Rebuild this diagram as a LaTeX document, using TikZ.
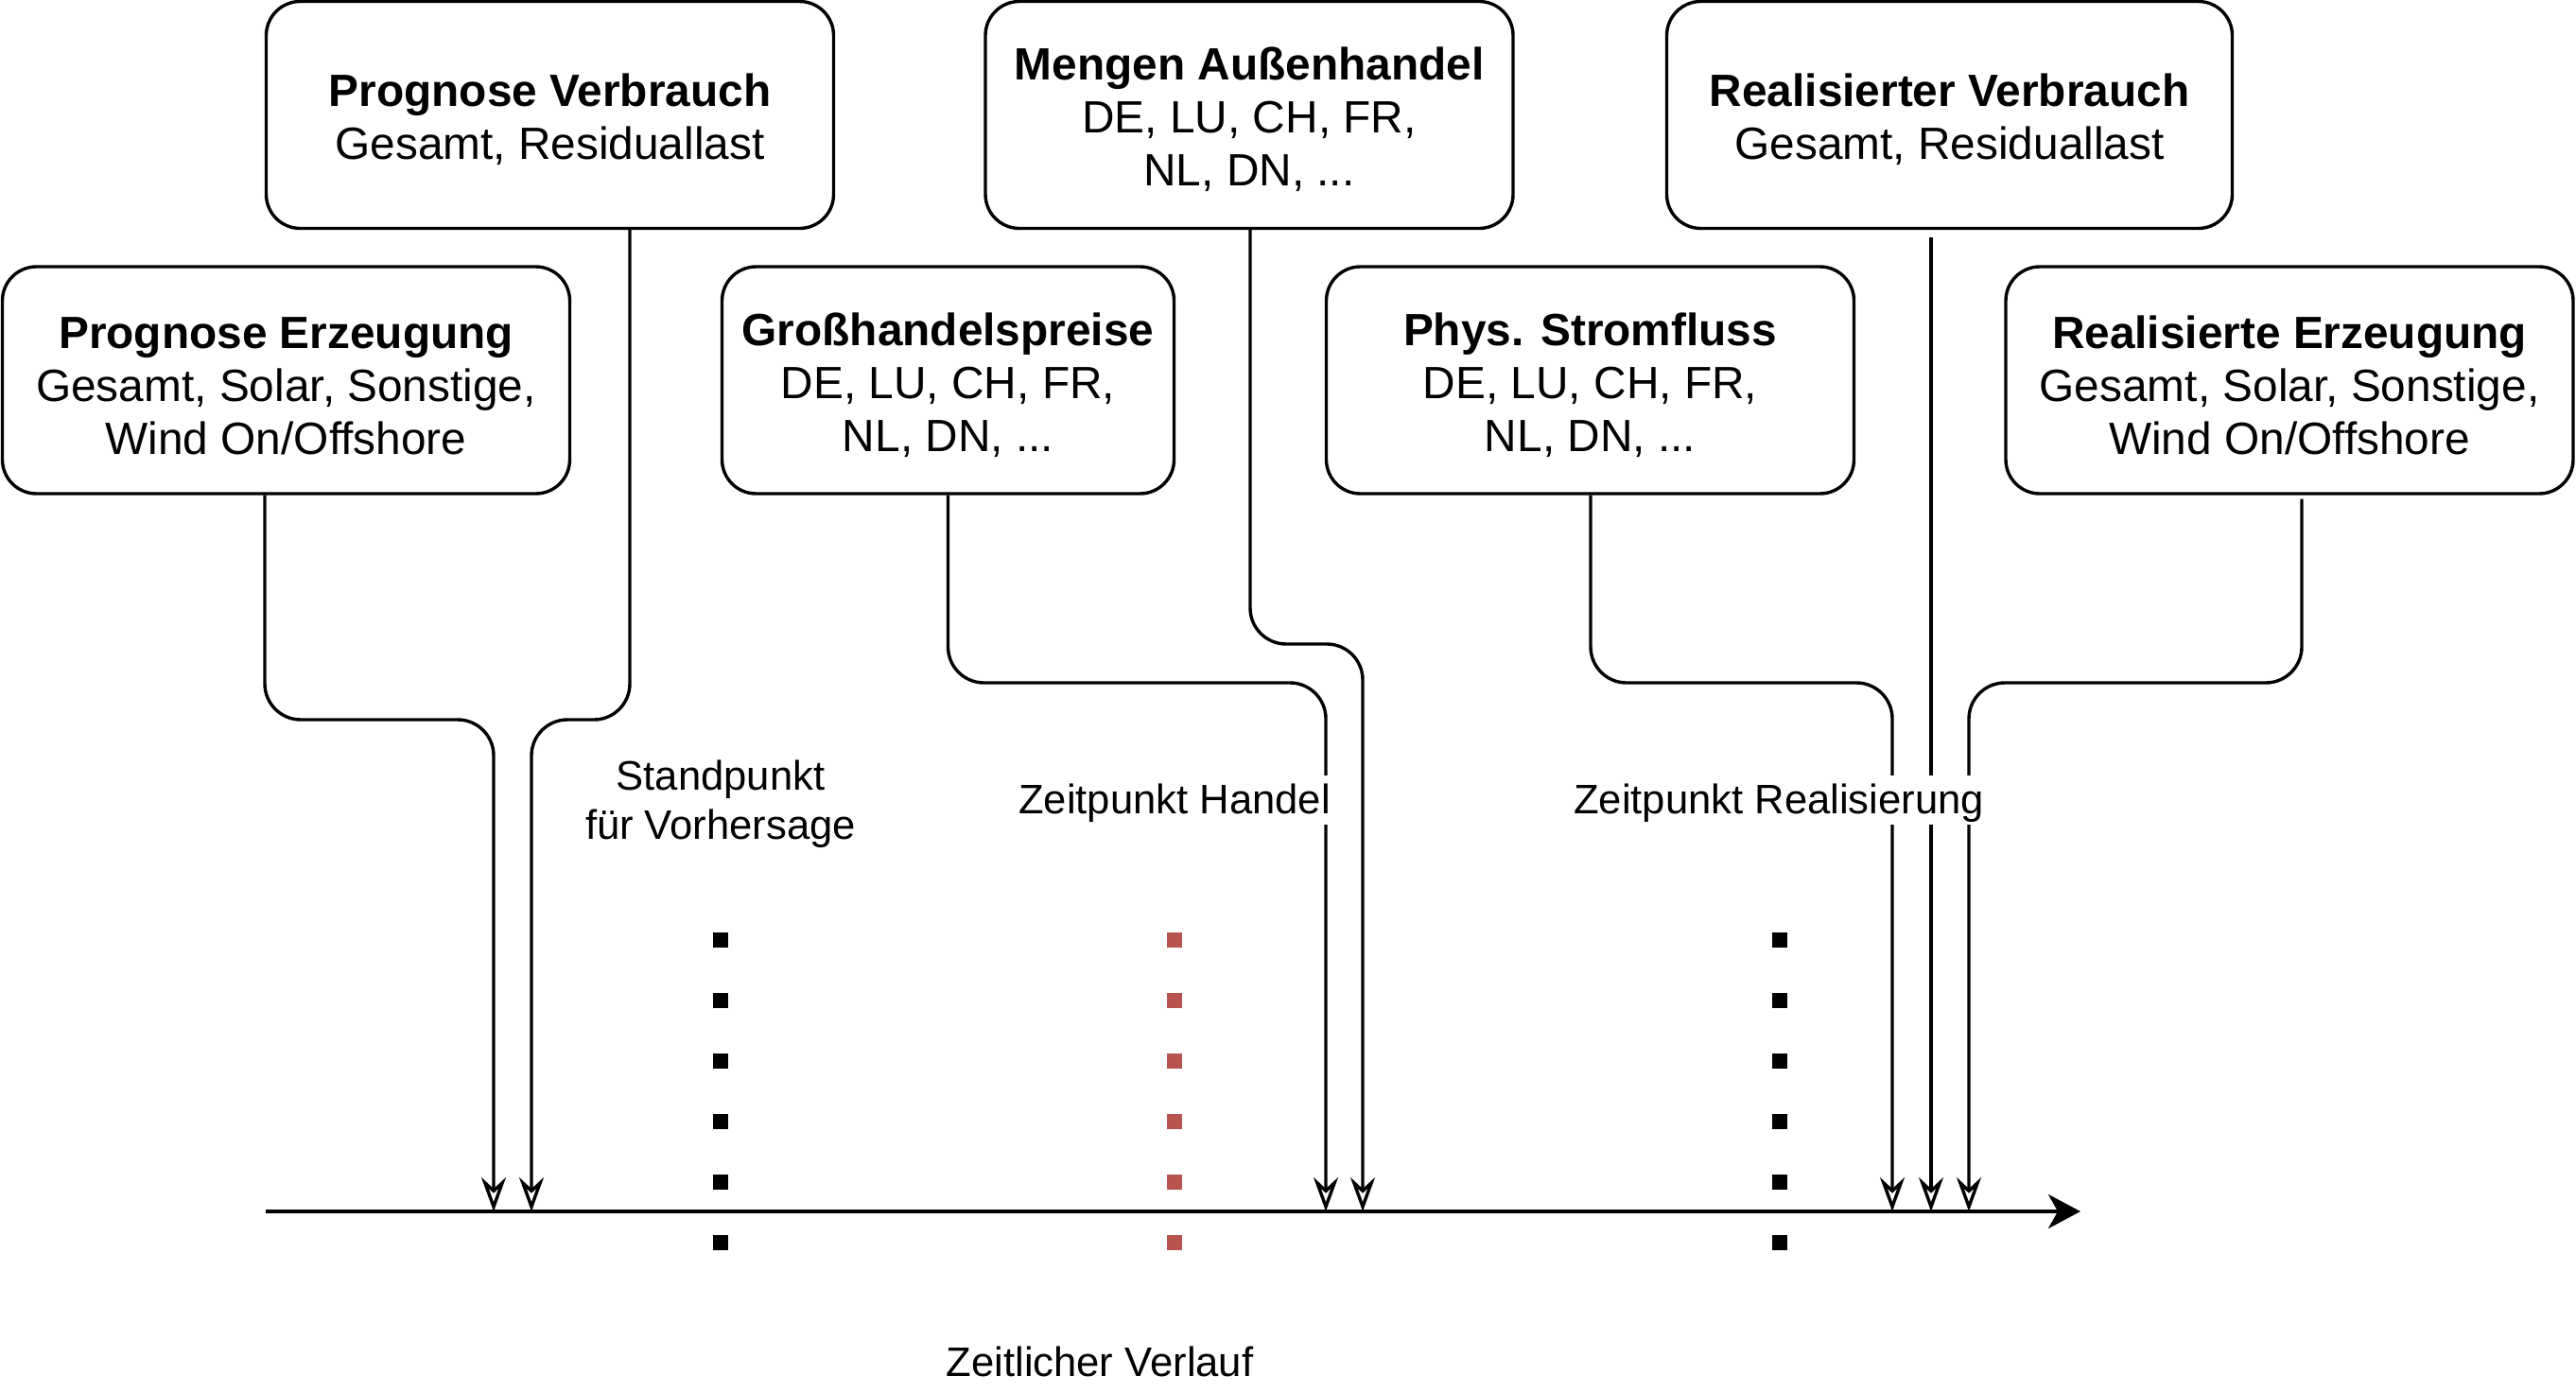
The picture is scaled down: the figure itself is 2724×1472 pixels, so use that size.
\documentclass[tikz,border=0pt]{standalone}
\usepackage{fontspec}
\setmainfont{Liberation Sans}
\usetikzlibrary{arrows.meta,calc}
\definecolor{dotred}{HTML}{B85450}
\newcommand{\topstrut}{\rule{0pt}{22.5pt}}
\begin{document}
\begin{tikzpicture}[x=0.5pt,y=-0.5pt,
  box/.style={draw, line width=1.7pt, rounded corners=18pt, minimum height=120pt,
    align=center, inner sep=0pt, font=\fontsize{23.9}{28}\selectfont},
  conn/.style={line width=1.7pt, rounded corners=19pt,
    -{Stealth[open,length=18pt,width=13pt,inset=6pt]}},
  axisline/.style={line width=1.7pt, -{Stealth[length=17pt,width=18pt,inset=5pt]}},
  lbl/.style={font=\fontsize{21.8}{26}\selectfont, align=center, inner sep=0pt},
  wlbl/.style={lbl, fill=white, inner xsep=2pt, text height=20pt, text depth=6pt},
  tickline/.style={line width=8pt, dash pattern=on 8pt off 24pt}
]
\useasboundingbox (0,0) rectangle (2724,1472);

% boxes
\node[box, minimum width=300pt] (pv) at (581.5,121.5) {\topstrut\textbf{Prognose Verbrauch}\\Gesamt, Residuallast};
\node[box, minimum width=300pt] (pe) at (302.5,402) {\topstrut\textbf{Prognose Erzeugung}\\Gesamt, Solar, Sonstige,\\Wind On/Offshore};
\node[box, minimum width=239pt] (gh) at (1002.5,402) {\topstrut\textbf{Großhandelspreise}\\DE, LU, CH, FR,\\NL, DN, ...};
\node[box, minimum width=279pt] (ma) at (1321,121.5) {\topstrut\textbf{Mengen Außenhandel}\\DE, LU, CH, FR,\\NL, DN, ...};
\node[box, minimum width=279pt] (ps) at (1681.5,402) {\topstrut\textbf{Phys. Stromfluss}\\DE, LU, CH, FR,\\NL, DN, ...};
\node[box, minimum width=299pt] (rv) at (2061.5,121.5) {\topstrut\textbf{Realisierter Verbrauch}\\Gesamt, Residuallast};
\node[box, minimum width=300pt] (re) at (2421,402) {\topstrut\textbf{Realisierte Erzeugung}\\Gesamt, Solar, Sonstige,\\Wind On/Offshore};

% axis
\coordinate (ax0) at (281,1281);
\coordinate (ax1) at (2200,1281);
\draw[axisline] (ax0) -- (ax1);

% arrow targets on the axis
\coordinate (t1) at (522,1281);
\coordinate (t2) at (562,1281);
\coordinate (t3) at (1402,1281);
\coordinate (t4) at (1441,1281);
\coordinate (t5) at (2001,1281);
\coordinate (t6) at (2042,1281);
\coordinate (t7) at (2082,1281);
% bend levels
\coordinate (bA) at (0,761);
\coordinate (bB) at (0,722);
\coordinate (bC) at (0,681);

\draw[conn] ($(pe.south)+(-22.5,0)$) |- (t1 |- bA) -- (t1);
\draw[conn] ($(pv.south)+(84.5,0)$) |- (t2 |- bA) -- (t2);
\draw[conn] (gh.south) |- (t3 |- bB) -- (t3);
\draw[conn] ($(ma.south)+(1,0)$) |- (t4 |- bC) -- (t4);
\draw[conn] ($(ps.south)+(0.5,0)$) |- (t5 |- bB) -- (t5);
\draw[conn, shorten <=4pt] ($(rv.south)+(-19.5,0)$) -- (t6);
\draw[conn, shorten <=2pt] ($(re.south)+(13,0)$) |- (t7 |- bB) -- (t7);

% dotted time markers
\draw[tickline] (762,986) -- (762,1323);
\draw[tickline, dotred] (1242,986) -- (1242,1323);
\draw[tickline] (1882,986) -- (1882,1323);

% labels
\node[lbl, anchor=base] (sv) at (762,887) {Standpunkt\\für Vorhersage};
\node[wlbl, anchor=base] (zh) at (1242,860) {Zeitpunkt Handel};
\node[wlbl, anchor=base] (zr) at (1881,860) {Zeitpunkt Realisierung};
\node[lbl, anchor=base] (zv) at (1163,1455) {Zeitlicher Verlauf};
\end{tikzpicture}
\end{document}
